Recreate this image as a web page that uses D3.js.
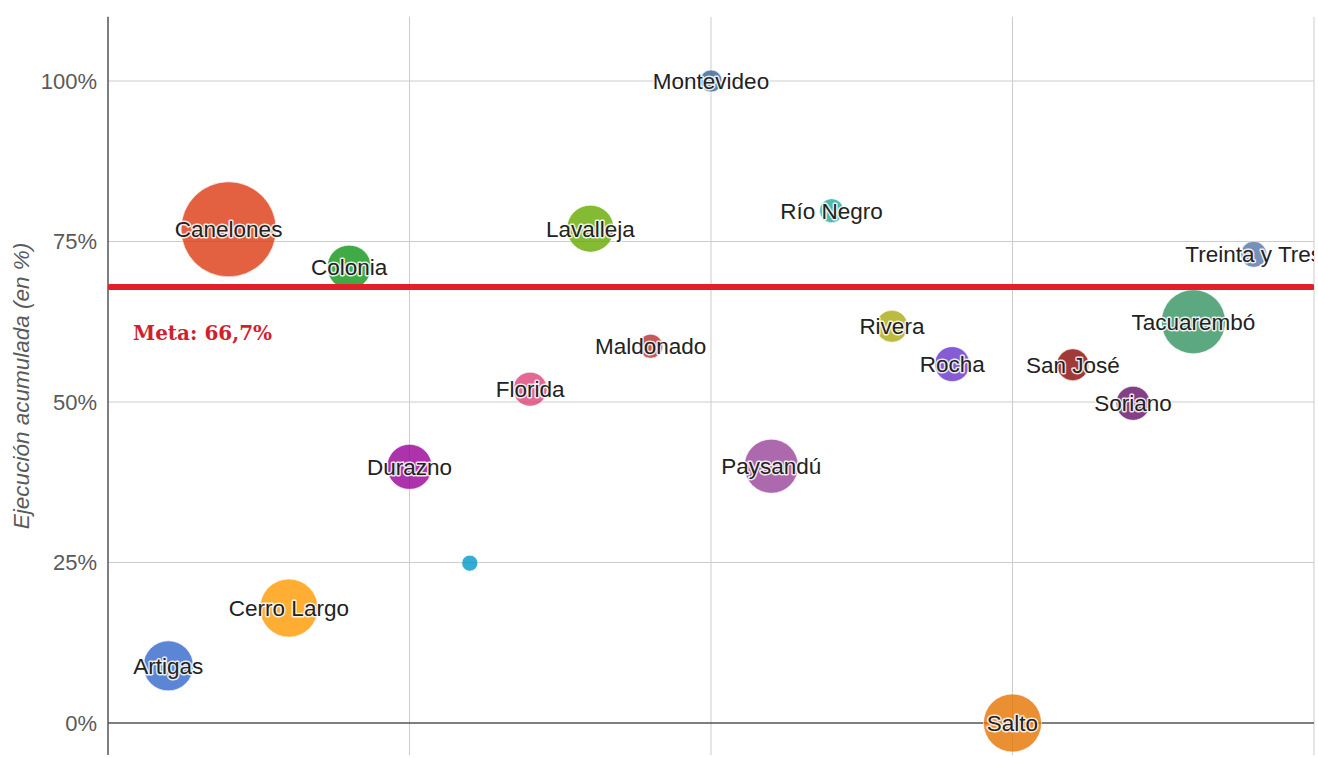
<!DOCTYPE html>
<html>
<head>
<meta charset="utf-8">
<script src="https://cdn.jsdelivr.net/npm/d3@7/dist/d3.min.js"></script>
<style>
  html, body { margin: 0; padding: 0; background: #fff; }
  svg { display: block; }
</style>
</head>
<body>
<svg id="chart" width="1318" height="758"></svg>
<script>
// ---- data ----
const departments = ["Artigas","Canelones","Cerro Largo","Colonia","Durazno","Flores","Florida","Lavalleja","Maldonado","Montevideo","Paysandú","Río Negro","Rivera","Rocha","Salto","San José","Soriano","Tacuarembó","Treinta y Tres"];
const xValues = [1,2,3,4,5,6,7,8,9,10,11,12,13,14,15,16,17,18,19];
const yValues = [8.9, 76.9, 17.9, 71.0, 39.9, 24.9, 52.0, 77.0, 58.7, 100.0, 40.0, 79.8, 61.8, 55.9, 0.0, 55.8, 49.8, 62.5, 73.0];
const sizes = [625, 2256, 841, 484, 506, 64, 289, 552, 144, 121, 729, 144, 256, 306, 841, 256, 289, 1024, 169];
const showLabel = [true,true,true,true,true,false,true,true,true,true,true,true,true,true,true,true,true,true,true];
const colors = ["#3366cc","#dc3912","#ff9900","#109618","#990099","#0099c6","#dd4477","#66aa00","#b82e2e","#316395","#994499","#22aa99","#aaaa11","#6633cc","#e67300","#8b0707","#651067","#329262","#5574a6"];
const yTicks = [0, 25, 50, 75, 100];
const yTickLabels = ["0%","25%","50%","75%","100%"];
const xGrid = [0, 5, 10, 15, 20];
const yTitle = "Ejecución acumulada (en %)";
const metaLabel = "Meta: 66,7%";
const metaLineValue = 67.9;

// ---- layout ----
const svg = d3.select("#chart");
const L = 108, R = 1314, T = 16.8, B = 755.1;
const x = d3.scaleLinear().domain([0, 20]).range([L, R]);
const y = d3.scaleLinear().domain([-5, 110]).range([B, T]);
const r = d3.scaleSqrt().domain([0, d3.max(sizes)]).range([0, 47.5]);

svg.append("defs").append("clipPath").attr("id","plotclip")
  .append("rect").attr("x", L).attr("y", T).attr("width", R - L).attr("height", B - T);

// gridlines
const g = svg.append("g");
g.selectAll("line.hg").data(yTicks.filter(d => d !== 0)).join("line")
  .attr("x1", L).attr("x2", R).attr("y1", d => y(d)).attr("y2", d => y(d))
  .attr("stroke", "#cccccc").attr("stroke-width", 1);
g.selectAll("line.vg").data(xGrid.filter(d => d !== 0)).join("line")
  .attr("x1", d => x(d)).attr("x2", d => x(d)).attr("y1", T).attr("y2", B)
  .attr("stroke", "#cccccc").attr("stroke-width", 1);

// baseline at 0%
svg.append("line").attr("x1", L).attr("x2", R).attr("y1", y(0)).attr("y2", y(0))
  .attr("stroke", "#555").attr("stroke-width", 1.5);

// y axis
const yAxis = d3.axisLeft(y).tickValues(yTicks).tickFormat((d, i) => yTickLabels[i]).tickSize(0).tickPadding(11);
const ya = svg.append("g").attr("transform", `translate(${L},0)`).call(yAxis);
ya.select(".domain").remove();
ya.selectAll("text").attr("font-family", "Liberation Sans, Arial, sans-serif")
  .attr("font-size", 22).attr("fill", "#5a5a5a");
svg.append("line").attr("x1", L).attr("x2", L).attr("y1", T).attr("y2", B)
  .attr("stroke", "#555").attr("stroke-width", 1.5);

// y title
svg.append("text")
  .attr("transform", `translate(29,${(T + B) / 2}) rotate(-90)`)
  .attr("text-anchor", "middle")
  .attr("font-family", "Liberation Sans, Arial, sans-serif")
  .attr("font-style", "italic").attr("font-size", 22.5).attr("fill", "#5a5a5a")
  .text(yTitle);

// bubbles
const data = departments.map((d, i) => ({ name: d, x: xValues[i], y: yValues[i], s: sizes[i], c: colors[i], lab: showLabel[i] }));
const plot = svg.append("g").attr("clip-path", "url(#plotclip)");
plot.selectAll("circle").data(data.slice().sort((a, b) => b.s - a.s)).join("circle")
  .attr("cx", d => x(d.x)).attr("cy", d => y(d.y)).attr("r", d => r(d.s))
  .attr("fill", d => d.c).attr("fill-opacity", 0.8)
  .attr("stroke", "#ffffff").attr("stroke-opacity", 0.6).attr("stroke-width", 1);

// meta line
plot.append("line").attr("x1", L + 2).attr("x2", R - 2)
  .attr("y1", y(metaLineValue)).attr("y2", y(metaLineValue))
  .attr("stroke", "#e3202a").attr("stroke-width", 6).attr("stroke-linecap", "round");

// labels
plot.selectAll("text.lab").data(data.filter(d => d.lab)).join("text")
  .attr("class", "lab")
  .attr("x", d => x(d.x)).attr("y", d => y(d.y)).attr("dy", "0.36em")
  .attr("text-anchor", "middle")
  .attr("font-family", "Liberation Sans, Arial, sans-serif").attr("font-size", 22.5)
  .attr("fill", "#222").attr("stroke", "#fff").attr("stroke-width", 3)
  .attr("stroke-opacity", 0.85).attr("paint-order", "stroke").attr("stroke-linejoin", "round")
  .text(d => d.name);

// meta label
svg.append("text").attr("x", 133).attr("y", 340)
  .attr("font-family", "DejaVu Serif, serif").attr("font-weight", "bold")
  .attr("font-size", 20).attr("fill", "#d01f2e")
  .text(metaLabel);
</script>
</body>
</html>
